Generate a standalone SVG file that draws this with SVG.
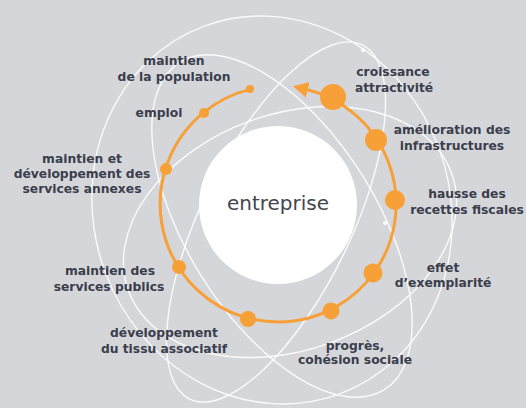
<svg xmlns="http://www.w3.org/2000/svg" width="526" height="408" viewBox="0 0 526 408">
<style>
.orbit{fill:none;stroke:#ffffff;stroke-width:1.4;opacity:0.9}
.wdot{fill:#ffffff}
.dot{fill:#f7a037}
.ring{fill:none;stroke:#f7a037;stroke-width:3}
.lbl{font-family:"DejaVu Sans","Liberation Sans",sans-serif;font-weight:bold;font-size:12.3px;fill:#3a3e4c;text-anchor:middle}
.core{font-family:"DejaVu Sans","Liberation Sans",sans-serif;font-size:20px;fill:#44464f;text-anchor:middle}
</style>
<defs>
<marker id="arrow" markerUnits="userSpaceOnUse" markerWidth="18" markerHeight="20" refX="2" refY="9" orient="auto">
<path d="M0,1 L15,9 L0,17 Z" fill="#f7a037"/>
</marker>
</defs>
<rect width="526" height="408" fill="#d5d6da"/>
<g id="orbits">
<ellipse class="orbit" cx="272" cy="210" rx="178" ry="196" transform="rotate(-20 272 210)"/>
<ellipse class="orbit" cx="282" cy="226" rx="193" ry="95" transform="rotate(58 282 226)"/>
<ellipse class="orbit" cx="290" cy="232" rx="172" ry="118" transform="rotate(-20 290 232)"/>
<ellipse class="orbit" cx="276" cy="222" rx="197" ry="75" transform="rotate(-64 276 222)"/>
<circle class="wdot" cx="363" cy="50" r="2"/>
<circle class="wdot" cx="385" cy="223" r="2"/>
</g>
<g id="entreprise">
<circle cx="278" cy="205" r="79" fill="#ffffff"/>
<text class="core" x="278" y="210">entreprise</text>
</g>
<g id="connectors">
<path class="ring" d="M250.05,89.4 A118,118 0 1 0 305.8,89.3" marker-end="url(#arrow)"/>
</g>
<g id="n-population"><circle class="dot" cx="250" cy="89" r="4"/><text class="lbl" x="174" y="65">maintien</text><text class="lbl" x="174" y="81">de la population</text></g>
<g id="n-emploi"><circle class="dot" cx="204" cy="113" r="5"/><text class="lbl" x="159" y="117">emploi</text></g>
<g id="n-annexes"><circle class="dot" cx="166" cy="169" r="6"/><text class="lbl" x="82" y="163">maintien et</text><text class="lbl" x="82" y="178">développement des</text><text class="lbl" x="82" y="193">services annexes</text></g>
<g id="n-publics"><circle class="dot" cx="179" cy="267" r="7"/><text class="lbl" x="110" y="275">maintien des</text><text class="lbl" x="109" y="291">services publics</text></g>
<g id="n-associatif"><circle class="dot" cx="248" cy="319" r="8"/><text class="lbl" x="164" y="337">développement</text><text class="lbl" x="164" y="353">du tissu associatif</text></g>
<g id="n-cohesion"><circle class="dot" cx="331" cy="311" r="8.5"/><text class="lbl" x="355" y="350">progrès,</text><text class="lbl" x="355" y="364">cohésion sociale</text></g>
<g id="n-exemplarite"><circle class="dot" cx="373" cy="273" r="9.5"/><text class="lbl" x="443" y="272">effet</text><text class="lbl" x="443" y="287">d’exemplarité</text></g>
<g id="n-recettes"><circle class="dot" cx="395" cy="200" r="10"/><text class="lbl" x="467" y="198">hausse des</text><text class="lbl" x="467" y="214">recettes fiscales</text></g>
<g id="n-infra"><circle class="dot" cx="376" cy="140" r="11"/><text class="lbl" x="452" y="134">amélioration des</text><text class="lbl" x="452" y="150">infrastructures</text></g>
<g id="n-croissance"><circle class="dot" cx="333" cy="97" r="13"/><text class="lbl" x="393" y="76">croissance</text><text class="lbl" x="394" y="92">attractivité</text></g>
</svg>
